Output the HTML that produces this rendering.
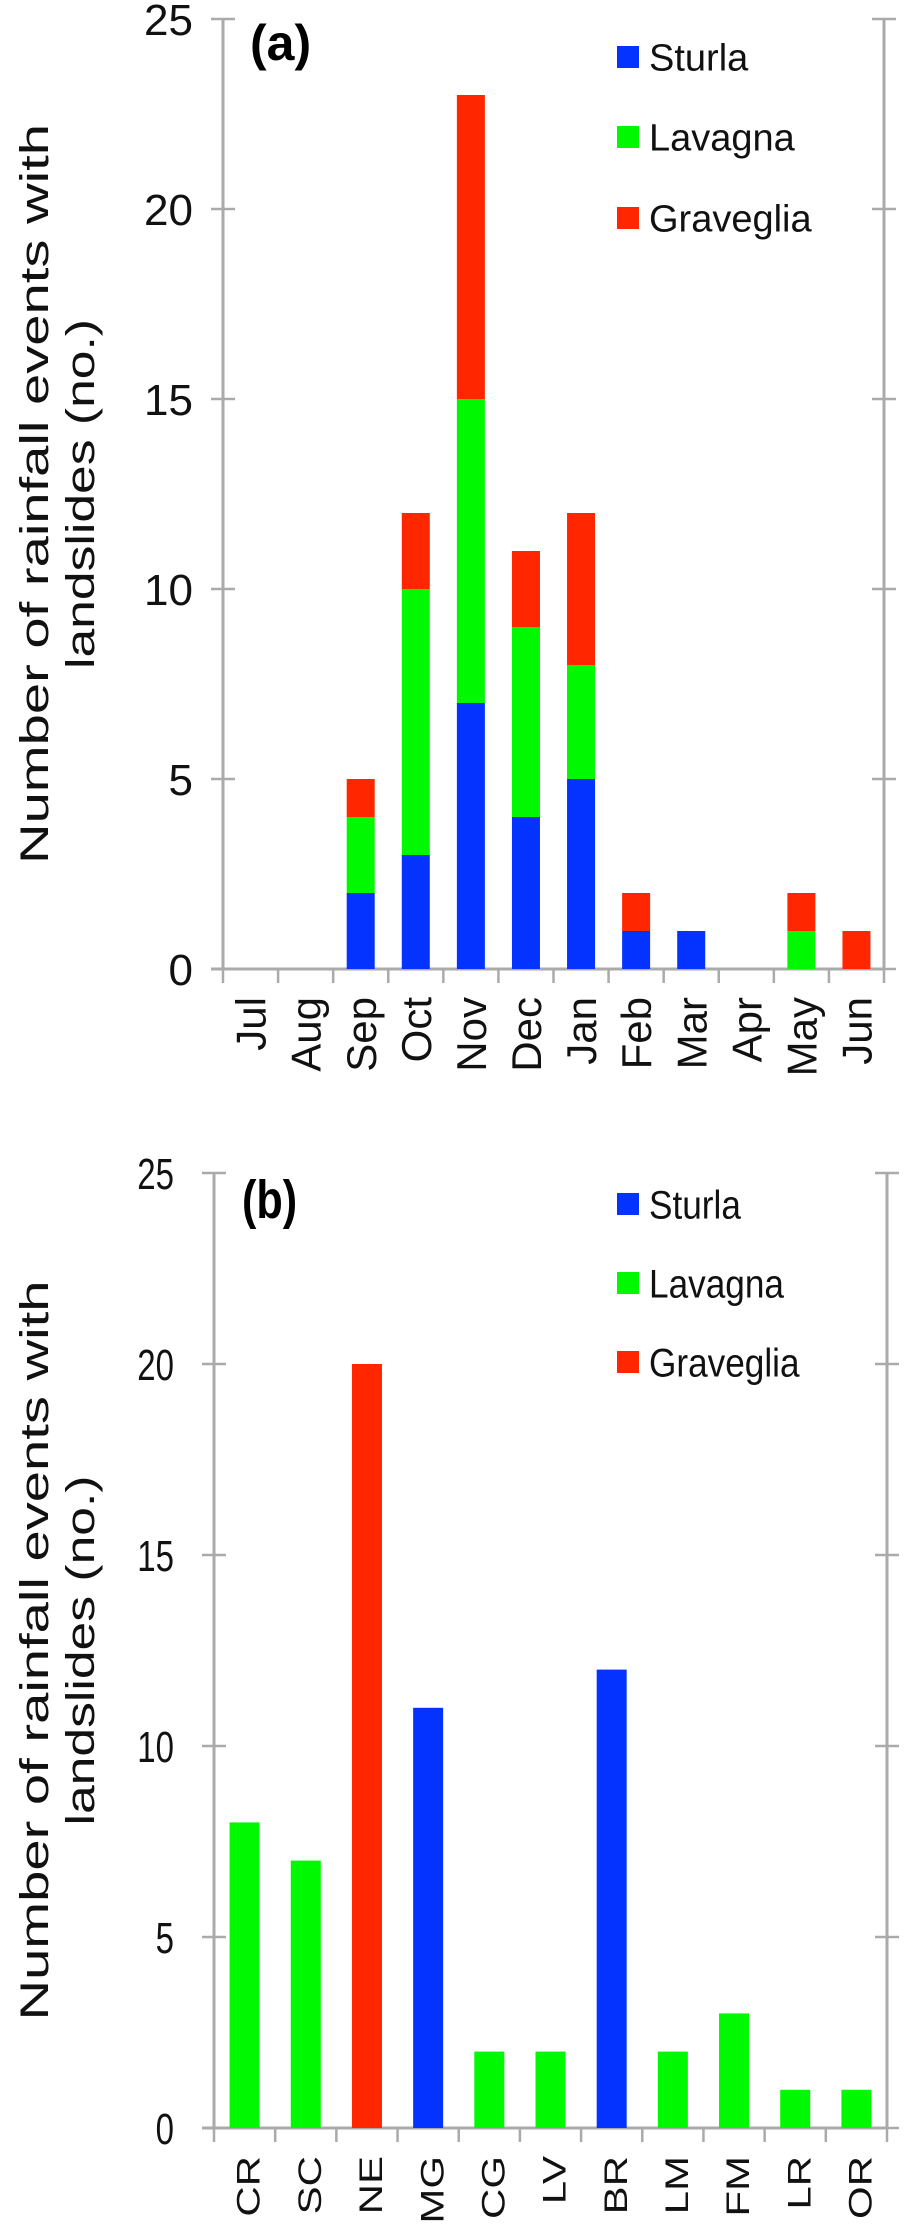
<!DOCTYPE html>
<html><head><meta charset="utf-8">
<style>
body{margin:0;background:#fff;}
svg{display:block;font-family:"Liberation Sans",Arial,sans-serif;}
</style></head>
<body>
<svg id="fig" width="904" height="2230" viewBox="0 0 904 2230" xmlns="http://www.w3.org/2000/svg">
<g id="chartA"></g>
<g id="chartB"></g>
</svg>
<script>
// ---- Chart (a) data ----
const monthCats = ["Jul","Aug","Sep","Oct","Nov","Dec","Jan","Feb","Mar","Apr","May","Jun"];
const sturlaA = [0,0,2,3,7,4,5,1,1,0,0,0];
const lavagnaA = [0,0,2,7,8,5,3,0,0,0,1,0];
const gravegliaA = [0,0,1,2,8,2,4,1,0,0,1,1];
// ---- Chart (b) data ----
const stationCats = ["CR","SC","NE","MG","CG","LV","BR","LM","FM","LR","OR"];
const stationVals = [8,7,20,11,2,2,12,2,3,1,1];
const stationBasin = ["Lavagna","Lavagna","Graveglia","Sturla","Lavagna","Lavagna","Sturla","Lavagna","Lavagna","Lavagna","Lavagna"];
const yTicks = [0,5,10,15,20,25];
const seriesNames = ["Sturla","Lavagna","Graveglia"];

const COL = {Sturla:"#0433ff", Lavagna:"#00f900", Graveglia:"#ff2600"};
const NS = "http://www.w3.org/2000/svg";
function mk(tag, attrs, parent){
  const e = document.createElementNS(NS, tag);
  for (const k in attrs) e.setAttribute(k, attrs[k]);
  parent.appendChild(e); return e;
}

function drawChart(g, cfg){
  const yS = v => cfg.y0 - (cfg.y0 - cfg.y25) * v / 25;
  const band = (cfg.xEnd - cfg.x0) / cfg.cats.length;
  const xS = i => cfg.x0 + band * (i + 0.5);
  const AX = "#aaaaaa";
  const ya = mk("line",{x1:cfg.x0,y1:yS(25),x2:cfg.x0,y2:yS(0),stroke:AX,"stroke-width":3},g);
  
  
  const ra = mk("line",{x1:cfg.xR,y1:yS(25),x2:cfg.xR,y2:yS(0),stroke:AX,"stroke-width":3},g);
  
  
  const tx = cfg.x0 - cfg.tickGap;
  yTicks.forEach(t=>{
    const y = yS(t);
    const tk = mk("line",{x1:cfg.x0-12,y1:y,x2:cfg.x0+12,y2:y,stroke:AX,"stroke-width":2.5},g);
    
    
    const rt = mk("line",{x1:cfg.xR-12,y1:y,x2:cfg.xR+12,y2:y,stroke:AX,"stroke-width":2.5},g);
    
    
    const lb = mk("text",{x:0,y:0,"text-anchor":"end","font-size":cfg.tickFs,fill:"#111",
      transform:`translate(${tx},${y+cfg.tickFs*0.36}) scale(${cfg.narrow?0.75:1},1)`},g);
    lb.textContent = t;
    
    
  });
  const xa = mk("line",{x1:cfg.x0-12,y1:yS(0),x2:cfg.xEnd,y2:yS(0),stroke:AX,"stroke-width":3},g);
  
  
  for (let i=0;i<=cfg.cats.length;i++){
    const x = cfg.x0 + band*i;
    const tk = mk("line",{x1:x,y1:yS(0),x2:x,y2:yS(0)+14,stroke:AX,"stroke-width":2.5},g);
    
    
  }
  cfg.cats.forEach((c,i)=>{
    const x = xS(i)+cfg.xFs*0.36, y = yS(0)+28;
    const t = mk("text",{x:0,y:0,"text-anchor":"end","font-size":cfg.xFs,fill:"#111",
      transform:`translate(${x},${y}) rotate(-90) scale(1,${cfg.narrow?0.78:1})`},g);
    t.textContent = c;
    
    
  });
  cfg.stacks.forEach(st=>{
    st.vals.forEach((v,i)=>{
      if(!v) return;
      const base = st.base ? st.base[i] : 0;
      const y1 = yS(base+v), y0 = yS(base);
      const r = mk("rect",{x:xS(i)-cfg.bw/2,y:y1,width:cfg.bw,height:y0-y1,fill:st.color?st.color:COL[st.colors[i]]},g);
      
      
    });
  });
  const mid = (yS(0)+yS(25))/2;
  const t1 = mk("text",{x:0,y:0,"text-anchor":"middle","font-size":cfg.titleFs,fill:"#111",
    textLength:cfg.t1len,lengthAdjust:"spacingAndGlyphs",
    transform:`translate(${cfg.t1x},${mid}) rotate(-90)`},g);
  t1.textContent = "Number of rainfall events with";
  
  
  const t2 = mk("text",{x:0,y:0,"text-anchor":"middle","font-size":cfg.titleFs,fill:"#111",
    textLength:cfg.t2len,lengthAdjust:"spacingAndGlyphs",
    transform:`translate(${cfg.t2x},${mid}) rotate(-90)`},g);
  t2.textContent = "landslides (no.)";
  
  
  const pl = mk("text",{x:0,y:0,"font-size":cfg.plFs,"font-weight":"bold",fill:"#000",
    transform:`translate(${cfg.plX},${cfg.plY}) scale(${cfg.narrow?0.8:1},1)`},g);
  pl.textContent = cfg.panel;
  
  
  seriesNames.forEach((s,k)=>{
    const cy = cfg.legY[k];
    const sq = mk("rect",{x:cfg.legX,y:cy-11,width:22,height:22,fill:COL[s]},g);
    
    
    const lt = mk("text",{x:0,y:0,"font-size":cfg.legFs,fill:"#111",
      transform:`translate(${cfg.legX+32},${cy+cfg.legFs*0.36}) scale(${cfg.narrow?0.88:1},1)`},g);
    lt.textContent = s;
    
    
  });
}

const baseL = sturlaA.map(v=>v);
const baseG = sturlaA.map((v,i)=>v+lavagnaA[i]);
drawChart(document.getElementById('chartA'),{
  cats:monthCats, x0:223, xEnd:884, xR:884, y0:969, y25:19, bw:28,
  tickFs:44, tickGap:30, xFs:42, titleFs:40, t1x:48, t2x:94, t1len:740, t2len:350, narrow:false,
  panel:"(a)", plX:250, plY:60, plFs:50,
  legX:617, legY:[57,137,218], legFs:38,
  stacks:[
    {name:"Sturla", vals:sturlaA, color:COL.Sturla},
    {name:"Lavagna", vals:lavagnaA, base:baseL, color:COL.Lavagna},
    {name:"Graveglia", vals:gravegliaA, base:baseG, color:COL.Graveglia}
  ]
});
drawChart(document.getElementById('chartB'),{
  cats:stationCats, x0:214, xEnd:887, xR:887, y0:2128, y25:1173, bw:30,
  tickFs:44, tickGap:40, xFs:42, titleFs:40, t1x:48, t2x:94, t1len:740, t2len:350, narrow:true,
  panel:"(b)", plX:242, plY:1218, plFs:54,
  legX:617, legY:[1204,1283,1362], legFs:40,
  stacks:[{vals:stationVals, colors:stationBasin}]
});
</script>
</body></html>
